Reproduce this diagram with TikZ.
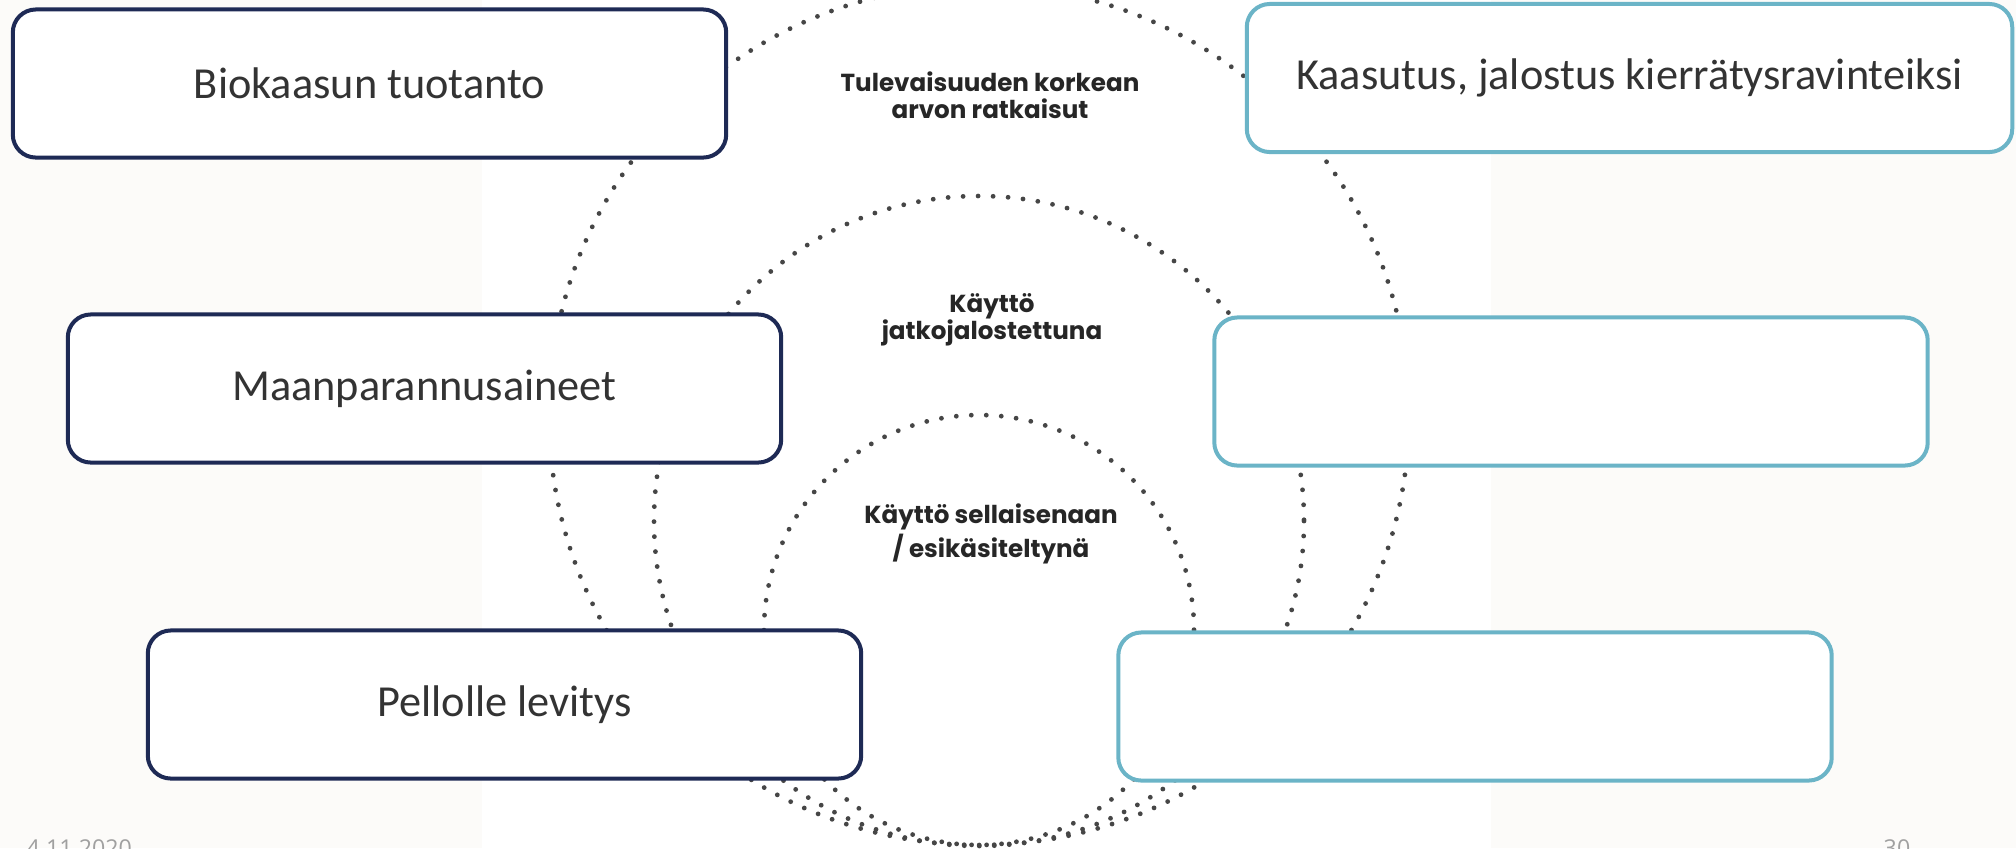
\documentclass[tikz,border=0pt]{standalone}
\usepackage{fontspec}
\usepackage{xcolor}
\usepackage{tikz}
\setmainfont{Carlito}
\newfontfamily\ringfont{Poppins}
\newfontfamily\footfont{Open Sans}
\definecolor{navyline}{RGB}{30,42,85}
\definecolor{tealline}{RGB}{107,180,199}
\definecolor{boxtext}{RGB}{51,51,51}
\definecolor{pagebg}{RGB}{252,251,249}
\definecolor{dotgray}{RGB}{70,70,70}
\definecolor{footgray}{RGB}{160,160,160}

\begin{document}
\begin{tikzpicture}[x=0.01cm,y=-0.01cm,
    ring/.style={dotgray, line width=0.048cm, line cap=round, dash pattern=on 0pt off 0.15cm},
    ringlabel/.style={align=center, text=black!85, font=\ringfont\bfseries\fontsize{7}{7.8}\selectfont},
    navybox/.style={draw=navyline, fill=white, line width=0.04cm, rounded corners=0.23cm,
        minimum width=7.13cm, minimum height=1.48cm, text=boxtext, font=\fontsize{12.6}{15}\selectfont},
    tealbox/.style={navybox, draw=tealline},
    foot/.style={anchor=base west, inner sep=0pt, text=footgray, font=\footfont\fontsize{6.6}{8}\selectfont}]
                \useasboundingbox (0,0) rectangle (2016,848);
                \clip (0,0) rectangle (2016,848);
                \fill[pagebg] (0,0) rectangle (2016,848);
                \fill[white] (482,0) rectangle (1491,848);
                \draw[ring] (979,415) circle[radius=430];
                \draw[ring] (979,521) circle[radius=325];
                \draw[ring] (979,630) circle[radius=215];
                \node[ringlabel] (future) at (990,95) {Tulevaisuuden korkean\\arvon ratkaisut};
                \node[ringlabel] (refined) at (992,320) {Käyttö\\jatkojalostettuna};
                \node[ringlabel] (asis) at (991,534) {Käyttö sellaisenaan\\/ esikäsiteltynä};
                \node[navybox] (biogas) at (369.5,83.5) {Biokaasun tuotanto};
                \node[navybox] (soil) at (424.5,388.5) {Maanparannusaineet};
                \node[navybox] (field) at (504.5,704.5) {Pellolle levitys};
                \node[tealbox, minimum width=7.65cm] (gasif) at (1629.5,78) {Kaasutus, jalostus kierrätysravinteiksi};
                \node[tealbox] (midright) at (1571,391.5) {};
                \node[tealbox] (lowright) at (1475,706.5) {};
                \node[foot] (date) at (26,856) {4.11.2020};
                \node[foot] (page) at (1883,856) {30};
            \end{tikzpicture}
\end{document}
